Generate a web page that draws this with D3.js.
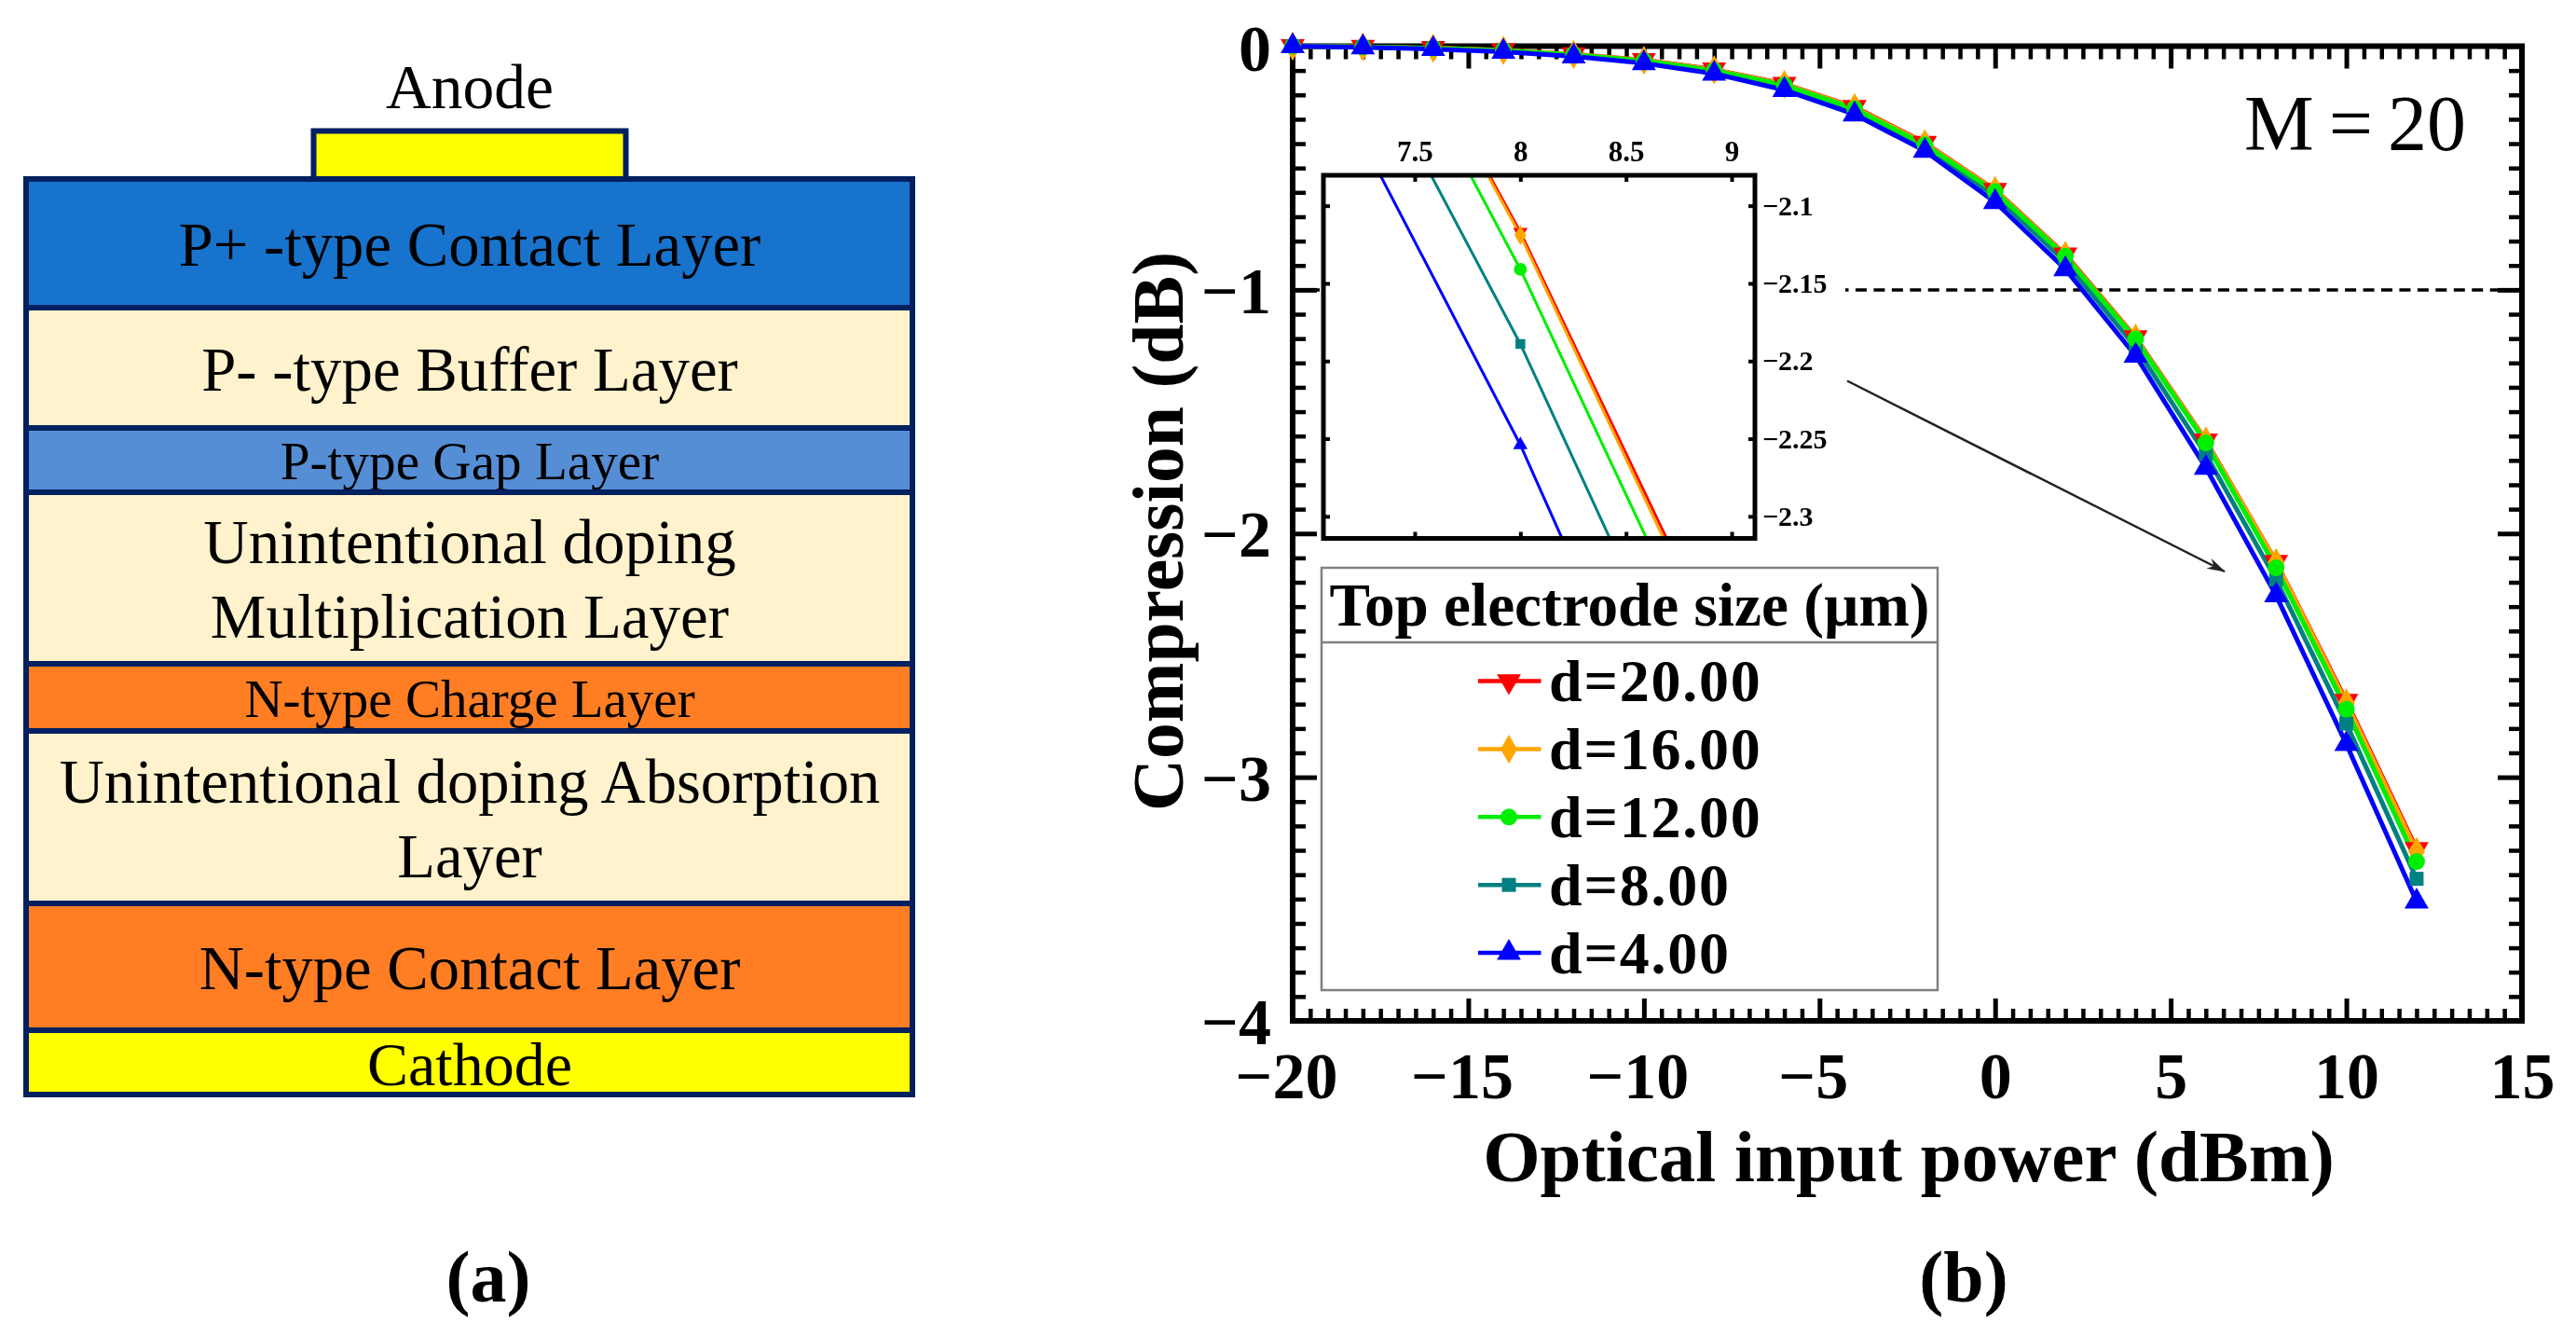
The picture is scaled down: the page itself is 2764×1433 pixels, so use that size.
<!DOCTYPE html>
<html>
<head>
<meta charset="utf-8">
<script src="https://cdn.jsdelivr.net/npm/d3@7"></script>
<style>
html,body{margin:0;padding:0;background:#fff}
svg{display:block;filter:blur(0.6px)}
text{font-family:"Liberation Serif","Times New Roman",serif;fill:#000}
</style>
</head>
<body>
<svg id="chart" width="2764" height="1433"></svg>
<script>
// ---------- data ----------
const layerLines = [
  ["P+ -type Contact Layer"],
  ["P- -type Buffer Layer"],
  ["P-type Gap Layer"],
  ["Unintentional doping", "Multiplication Layer"],
  ["N-type Charge Layer"],
  ["Unintentional doping Absorption", "Layer"],
  ["N-type Contact Layer"],
  ["Cathode"]
];
const layerThickness = [138, 129, 69, 184, 72, 185, 136, 69];
const powerDbm = [-20,-18,-16,-14,-12,-10,-8,-6,-4,-2,0,2,4,6,8,10,12];
const d20 = [0,-0.003,-0.008,-0.017,-0.033,-0.057,-0.096,-0.155,-0.25,-0.397,-0.59,-0.855,-1.195,-1.618,-2.117,-2.687,-3.295];
const d16 = [0,-0.003,-0.008,-0.017,-0.034,-0.058,-0.097,-0.157,-0.252,-0.4,-0.592,-0.858,-1.198,-1.62,-2.119,-2.695,-3.305];
const d12 = [0,-0.003,-0.009,-0.018,-0.035,-0.06,-0.1,-0.16,-0.257,-0.405,-0.597,-0.862,-1.202,-1.628,-2.141,-2.721,-3.346];
const d8  = [0,-0.004,-0.01,-0.02,-0.038,-0.064,-0.105,-0.168,-0.265,-0.415,-0.615,-0.885,-1.235,-1.675,-2.189,-2.78,-3.417];
const d4  = [0,-0.005,-0.012,-0.023,-0.042,-0.07,-0.113,-0.18,-0.28,-0.43,-0.64,-0.915,-1.27,-1.73,-2.254,-2.864,-3.51];
const seriesNames = ["d=20.00","d=16.00","d=12.00","d=8.00","d=4.00"];
const seriesValues = [d20,d16,d12,d8,d4];
const xMajor = [-20,-15,-10,-5,0,5,10,15];
const yMajor = [0,-1,-2,-3,-4];
const insetXTicks = [7.5,8,8.5,9];
const insetYTicks = [-2.1,-2.15,-2.2,-2.25,-2.3];
const legendTitle = "Top electrode size (µm)";
const annotation = "M = 20";
const compressionRef = -1;

// ---------- styles ----------
const seriesColors = ["#ff0000","#ffa500","#00ee00","#008080","#0000ff"];
const layerColors = ["#1873cc","#fff2cc","#558ed5","#fff2cc","#ff7e24","#fff2cc","#ff7e24","#ffff00"];
const layerFonts = [66.7,66.8,57.2,67,57,66.6,66.6,66];
const navy = "#002060";
const symbols = [
  {t:d3.symbolTriangle, rot:180, big:290, small:105},
  {t:d3.symbolDiamond, rot:0, big:280, small:135},
  {t:d3.symbolCircle, rot:0, big:255, small:150},
  {t:d3.symbolSquare, rot:0, big:225, small:110},
  {t:d3.symbolTriangle, rot:0, big:290, small:105}
];
const drawOrder = [0,1,3,2,4];

const svg = d3.select("#chart");

// ---------- panel (a) ----------
const a = svg.append("g");
const cum = d3.cumsum(layerThickness);
const layerY = d3.scaleLinear().domain([0, d3.sum(layerThickness)]).range([192,1174]);
const layerX0 = 28, layerX1 = 979, layerCx = 504;

a.append("text").attr("x",layerCx).attr("y",116).attr("text-anchor","middle")
  .attr("font-size",67.5).text("Anode");
a.append("rect").attr("x",336.5).attr("y",140.5).attr("width",335).attr("height",55)
  .attr("fill","#ffff00").attr("stroke",navy).attr("stroke-width",6);

layerLines.forEach((lines,i)=>{
  const top = layerY(i?cum[i-1]:0), bot = layerY(cum[i]);
  a.append("rect").attr("x",layerX0).attr("y",top).attr("width",layerX1-layerX0).attr("height",bot-top)
    .attr("fill",layerColors[i]).attr("stroke",navy).attr("stroke-width",6);
  const c=(top+bot)/2, lh=80, fs=layerFonts[i];
  lines.forEach((s,j)=>{
    a.append("text").attr("x",layerCx).attr("text-anchor","middle").attr("font-size",fs)
      .attr("y",c+(j-(lines.length-1)/2)*lh+0.365*fs).text(s);
  });
});
svg.append("text").attr("x",524).attr("y",1396).attr("text-anchor","middle")
  .attr("font-size",78).attr("font-weight","bold").text("(a)");
svg.append("text").attr("x",2107).attr("y",1396).attr("text-anchor","middle")
  .attr("font-size",78).attr("font-weight","bold").text("(b)");

// ---------- panel (b): main plot ----------
const X0=1387,X1=2706,Y0=49.5,Y1=1095;
const x = d3.scaleLinear().domain([-20,15]).range([X0,X1]);
const y = d3.scaleLinear().domain([0,-4]).range([Y0,Y1]);
const xMinor = d3.range(-20,15.01,0.5).filter(v=>!xMajor.includes(v));
const yMinor = d3.range(0,-4.01,-0.1).map(v=>+v.toFixed(1)).filter(v=>!yMajor.includes(v));
const b = svg.append("g");

function ax(gen, tx, ty, sel=b){
  const g = sel.append("g").attr("transform",`translate(${tx},${ty})`).call(gen);
  g.select(".domain").remove();
  return g;
}
function tickStyle(g,w){ g.selectAll("line").attr("stroke","#000").attr("stroke-width",w); return g; }

// minor + major ticks on all four sides, pointing inward
tickStyle(ax(d3.axisBottom(x).tickValues(xMinor).tickSize(-13).tickFormat(""),0,Y1),4.5);
tickStyle(ax(d3.axisTop(x).tickValues(xMinor).tickSize(-14).tickFormat(""),0,Y0),4.5);
tickStyle(ax(d3.axisLeft(y).tickValues(yMinor).tickSize(-14).tickFormat(""),X0,0),4.5);
tickStyle(ax(d3.axisRight(y).tickValues(yMinor).tickSize(-14).tickFormat(""),X1,0),4.5);
tickStyle(ax(d3.axisTop(x).tickValues(xMajor).tickSize(-24).tickFormat(""),0,Y0),5);
tickStyle(ax(d3.axisRight(y).tickValues(yMajor).tickSize(-26).tickFormat(""),X1,0),5);

const gxb = tickStyle(ax(d3.axisBottom(x).tickValues(xMajor).tickSize(-24).tickPadding(33).tickFormat(d3.format("d")),0,Y1),5);
gxb.selectAll("text").attr("font-size",70).attr("font-weight","bold").attr("font-family",'"Liberation Serif",serif').attr("fill","#000")
  .attr("dx",d=>d<0?-7:0);
const gyl = tickStyle(ax(d3.axisLeft(y).tickValues(yMajor).tickSize(-26).tickPadding(23).tickFormat(d3.format("d")),X0,0),5);
gyl.selectAll("text").attr("font-size",70).attr("font-weight","bold").attr("font-family",'"Liberation Serif",serif').attr("fill","#000")
  .attr("y",d=>d===0?4:2);

// dashed reference
b.append("line").attr("x1",x(-20)).attr("x2",x(15)).attr("y1",y(compressionRef)).attr("y2",y(compressionRef))
  .attr("stroke","#000").attr("stroke-width",3.5).attr("stroke-dasharray","12 7.45").attr("stroke-dashoffset",-1);

// frame
b.append("rect").attr("x",X0).attr("y",Y0).attr("width",X1-X0).attr("height",Y1-Y0)
  .attr("fill","none").attr("stroke","#000").attr("stroke-width",6);

// titles
b.append("text").attr("x",2048).attr("y",1267).attr("text-anchor","middle")
  .attr("font-size",79).attr("font-weight","bold").text("Optical input power (dBm)");
b.append("text").attr("transform","translate(1269,570) rotate(-90)").attr("text-anchor","middle")
  .attr("font-size",77.6).attr("font-weight","bold").text("Compression (dB)");
b.append("text").attr("x",2408).attr("y",161)
  .attr("font-size",84).attr("word-spacing","-5").text(annotation);

// series
function drawSeries(sel,sx,sy,lw,sizeKey,clip){
  const line = d3.line().x((d,i)=>sx(powerDbm[i])).y(d=>sy(d));
  drawOrder.forEach(k=>{
    const g = sel.append("g");
    if(clip) g.attr("clip-path",clip);
    g.append("path").datum(seriesValues[k]).attr("d",line).attr("fill","none")
      .attr("stroke",seriesColors[k]).attr("stroke-width",lw).attr("stroke-linejoin","round");
  });
  drawOrder.forEach(k=>{
    const sm = symbols[k];
    const path = d3.symbol().type(sm.t).size(sm[sizeKey])();
    const [a0,a1]=sx.domain(), [b0,b1]=sy.domain();
    seriesValues[k].forEach((v,i)=>{
      const px=powerDbm[i];
      if(px<a0||px>a1||v>b0||v<b1) return;
      sel.append("path").attr("d",path).attr("fill",seriesColors[k])
        .attr("transform",`translate(${sx(px)},${sy(v)}) rotate(${sm.rot})`);
    });
  });
}
drawSeries(b,x,y,5,"big",null);

// ---------- inset ----------
const inset = svg.append("g");
inset.append("rect").attr("x",1416).attr("y",140).attr("width",564).attr("height",450).attr("fill","#fff");
const IX0=1420,IX1=1883,IY0=188,IY1=577.5;
const ix = d3.scaleLinear().domain([7.068,9.11]).range([IX0,IX1]);
const iy = d3.scaleLinear().domain([-2.0804,-2.3142]).range([IY0,IY1]);
svg.append("defs").append("clipPath").attr("id","insetClip").append("rect")
  .attr("x",IX0).attr("y",IY0).attr("width",IX1-IX0).attr("height",IY1-IY0);
drawSeries(inset,ix,iy,3,"small","url(#insetClip)");

const ifont=(g,fs)=>g.selectAll("text").attr("font-size",fs).attr("font-weight","bold")
  .attr("font-family",'"Liberation Serif",serif').attr("fill","#000");
const gTop = tickStyle(ax(d3.axisTop(ix).tickValues(insetXTicks).tickSize(-7).tickFormat(d=>d),0,IY0,inset),4);
ifont(gTop,31);
gTop.selectAll("text").attr("y",173.3-IY0).attr("dy",0);
tickStyle(ax(d3.axisBottom(ix).tickValues(insetXTicks).tickSize(-7).tickFormat(""),0,IY1,inset),4);
tickStyle(ax(d3.axisLeft(iy).tickValues(insetYTicks).tickSize(-7).tickFormat(""),IX0,0,inset),4);
ifont(tickStyle(ax(d3.axisRight(iy).tickValues(insetYTicks).tickSize(-7).tickPadding(8).tickFormat(d=>d3.format(".2~f")(d)),IX1,0,inset),4),30);
inset.append("rect").attr("x",IX0).attr("y",IY0).attr("width",IX1-IX0).attr("height",IY1-IY0)
  .attr("fill","none").attr("stroke","#000").attr("stroke-width",5);

// arrow from the inset to the curve
svg.append("defs").append("marker").attr("id","arrowHead").attr("viewBox","0 0 20 12").attr("refX",19).attr("refY",6)
  .attr("markerWidth",20).attr("markerHeight",12).attr("markerUnits","userSpaceOnUse").attr("orient","auto")
  .append("path").attr("d","M0,0 L20,6 L0,12 L6,6 Z").attr("fill","#222");
svg.append("line").attr("x1",1982).attr("y1",408.5).attr("x2",2387).attr("y2",613)
  .attr("stroke","#222").attr("stroke-width",2.5).attr("marker-end","url(#arrowHead)");

// ---------- legend ----------
const LX0=1418,LX1=2079,LY0=609,LY1=1062,LDIV=689;
const leg = svg.append("g");
leg.append("rect").attr("x",LX0).attr("y",LY0).attr("width",LX1-LX0).attr("height",LY1-LY0)
  .attr("fill","#fff").attr("stroke","#808080").attr("stroke-width",2.5);
leg.append("line").attr("x1",LX0).attr("x2",LX1).attr("y1",LDIV).attr("y2",LDIV)
  .attr("stroke","#808080").attr("stroke-width",2.5);
leg.append("text").attr("x",1748.5).attr("y",671).attr("text-anchor","middle")
  .attr("font-size",65.2).attr("font-weight","bold").text(legendTitle);
const legY = d3.scalePoint().domain(seriesNames).range([730.6,1022]);
seriesNames.forEach((n,k)=>{
  const yy=legY(n), sm=symbols[k];
  leg.append("line").attr("x1",1586).attr("x2",1653.5).attr("y1",yy).attr("y2",yy)
    .attr("stroke",seriesColors[k]).attr("stroke-width",4.5);
  leg.append("path").attr("d",d3.symbol().type(sm.t).size(sm.big)())
    .attr("fill",seriesColors[k]).attr("transform",`translate(1619,${yy}) rotate(${sm.rot})`);
  leg.append("text").attr("x",1662).attr("y",yy+21.5).attr("font-size",64).attr("font-weight","bold")
    .attr("letter-spacing",1.8).text(n);
});
</script>
</body>
</html>
